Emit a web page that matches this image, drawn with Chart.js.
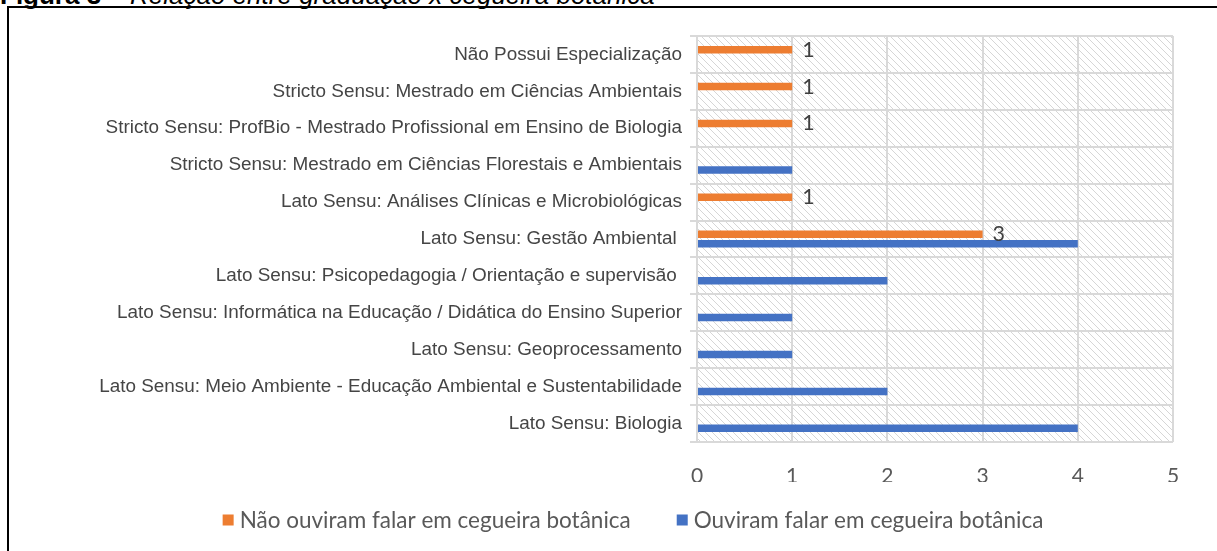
<!DOCTYPE html>
<html>
<head>
<meta charset="utf-8">
<script src="https://cdn.jsdelivr.net/npm/chart.js@4.4.1/dist/chart.umd.min.js"></script>
<style>
  html, body { margin: 0; padding: 0; background: #fff; }
  body { width: 1217px; height: 551px; position: relative; overflow: hidden; }
  #title {
    position: absolute; left: 0; top: -18px;
    font-family: "Liberation Sans", Arial, sans-serif; font-size: 26px; line-height: 26px;
    color: #000; white-space: nowrap;
  }
  #frame {
    position: absolute; left: 7px; top: 6px; width: 1215px; height: 550px;
    border-left: 2px solid #000; border-top: 2px solid #000;
  }
  #chart { position: absolute; left: 0; top: 0; }
</style>
</head>
<body>
<div id="title"><b>Figura 3 – </b><i>Relação entre graduação x cegueira botânica</i></div>
<div id="frame"></div>
<canvas id="chart" width="1217" height="551"></canvas>
<script>
/* data, top to bottom */
const categories = [
  "Não Possui Especialização",
  "Stricto Sensu: Mestrado em Ciências Ambientais",
  "Stricto Sensu: ProfBio - Mestrado Profissional em Ensino de Biologia",
  "Stricto Sensu: Mestrado em Ciências Florestais e Ambientais",
  "Lato Sensu: Análises Clínicas e Microbiológicas",
  "Lato Sensu: Gestão Ambiental ",
  "Lato Sensu: Psicopedagogia / Orientação e supervisão ",
  "Lato Sensu: Informática na Educação / Didática do Ensino Superior",
  "Lato Sensu: Geoprocessamento",
  "Lato Sensu: Meio Ambiente - Educação Ambiental e Sustentabilidade",
  "Lato Sensu: Biologia"
];
const naoOuviram = [1, 1, 1, null, 1, 3, null, null, null, null, null];
const ouviram = [null, null, null, 1, null, 4, 2, 1, 1, 2, 4];
const xTicks = [0, 1, 2, 3, 4, 5];

const ORANGE = "#ED7D31";
const BLUE = "#4472C4";
const GRID = "#d9d9d9";

/* hatched plot area */
function hatchTile() {
  const c = document.createElement("canvas");
  c.width = 7; c.height = 7;
  const g = c.getContext("2d");
  g.strokeStyle = "#d6d6d6";
  g.lineWidth = 1;
  g.beginPath();
  g.moveTo(-2, -2); g.lineTo(9, 9);
  g.moveTo(-2, 5); g.lineTo(2, 9);
  g.moveTo(5, -2); g.lineTo(9, 2);
  g.stroke();
  return c;
}

const hatch = {
  id: "hatch",
  beforeDraw(chart) {
    const { ctx, chartArea: a } = chart;
    ctx.save();
    ctx.fillStyle = ctx.createPattern(hatchTile(), "repeat");
    ctx.fillRect(a.left, a.top, a.right - a.left, a.bottom - a.top);
    ctx.restore();
  }
};

/* value labels on the orange series only */
const valueLabels = {
  id: "valueLabels",
  afterDatasetsDraw(chart) {
    const ctx = chart.ctx;
    const meta = chart.getDatasetMeta(0);
    ctx.save();
    ctx.font = "21.5px Lato";
    ctx.fillStyle = "#404040";
    ctx.textBaseline = "middle";
    ctx.textAlign = "left";
    meta.data.forEach((bar, i) => {
      if (naoOuviram[i] == null) return;
      ctx.fillText(String(naoOuviram[i]), bar.x + 10, bar.y);
    });
    ctx.restore();
  }
};

/* legend drawn by hand so it can sit off-centre like the original */
const legendBox = {
  id: "legendBox",
  afterDraw(chart) {
    const ctx = chart.ctx;
    const ds = chart.data.datasets;
    ctx.save();
    ctx.font = "22.5px Lato";
    ctx.textBaseline = "middle";
    const box = 11, gapText = 6, gapItem = 46;
    const widths = ds.map(d => box + gapText + ctx.measureText(d.label).width);
    const total = widths.reduce((s, w) => s + w, 0) + gapItem * (ds.length - 1);
    let x = 633 - total / 2;
    const y = 520;
    ds.forEach((d, i) => {
      ctx.fillStyle = d.backgroundColor;
      ctx.fillRect(x, y - box / 2, box, box);
      ctx.fillStyle = "#595959";
      ctx.fillText(d.label, x + box + gapText, y + 1);
      x += widths[i] + gapItem;
    });
    ctx.restore();
  }
};

new Chart(document.getElementById("chart"), {
  type: "bar",
  data: {
    labels: categories,
    datasets: [
      { label: "Não ouviram falar em cegueira botânica", data: naoOuviram, backgroundColor: ORANGE },
      { label: "Ouviram falar em cegueira botânica", data: ouviram, backgroundColor: BLUE }
    ]
  },
  options: {
    indexAxis: "y",
    responsive: false,
    animation: false,
    layout: { padding: { left: 8, right: 44, top: 36, bottom: 69 } },
    datasets: { bar: { categoryPercentage: 0.515, barPercentage: 0.79 } },
    scales: {
      x: {
        min: 0, max: 5,
        afterBuildTicks: s => { s.ticks = xTicks.map(v => ({ value: v })); },
        ticks: { padding: 22, color: "#595959", font: { family: "Lato", size: 21 } },
        grid: { color: GRID, lineWidth: 2, drawTicks: false },
        border: { display: false },
        afterFit: s => { s.height = 40; }
      },
      y: {
        ticks: { autoSkip: false, padding: 8, color: "#454545", font: { family: "Liberation Sans", size: 18.9 } },
        grid: { color: GRID, lineWidth: 2, tickLength: 7, offset: true },
        border: { display: false },
        afterFit: s => { s.width = 689; }
      }
    },
    plugins: { legend: { display: false }, tooltip: { enabled: false } }
  },
  plugins: [hatch, valueLabels, legendBox]
});
</script>
</body>
</html>
